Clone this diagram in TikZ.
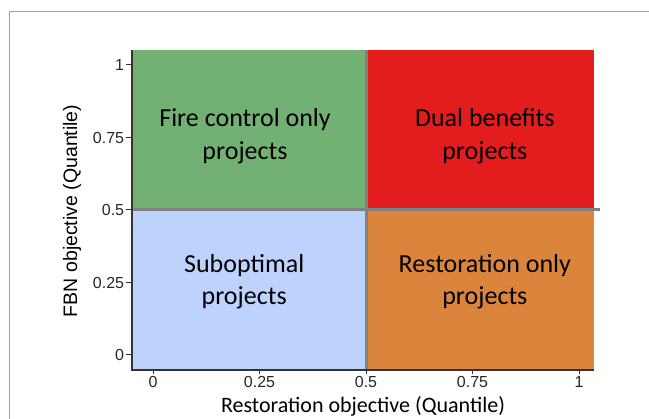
\documentclass[tikz,border=0pt]{standalone}
\usepackage{fontspec}
\setmainfont{Liberation Sans}
\newfontfamily\calib{Carlito}
\definecolor{firegreen}{RGB}{114,176,116}
\definecolor{dualred}{RGB}{227,28,30}
\definecolor{subblue}{RGB}{189,210,253}
\definecolor{restorange}{RGB}{219,132,60}
\definecolor{divgray}{RGB}{128,128,128}
\definecolor{framegray}{RGB}{160,160,160}
\definecolor{axisdark}{RGB}{51,51,51}
\tikzset{
  quad/.style={font=\calib\fontsize{26}{32.5}\selectfont, align=center, text=black},
  ticklab/.style={font=\fontsize{16}{19}\selectfont, text=black!85, inner sep=1.5pt},
  tickmark/.style={axisdark, line width=1pt},
  axline/.style={axisdark, line width=2pt},
  divline/.style={divgray, line width=3pt},
}
\begin{document}
\begin{tikzpicture}[x=1pt,y=-1pt]
\useasboundingbox (0,0) rectangle (649,419);
\draw[framegray, line width=1pt] (9,419) -- (9,11.5) -- (649,11.5);
\begin{scope}[shift={(153,355)}, x=426pt, y=290pt]
  \coordinate (ll) at (-0.049,-0.052);
  \coordinate (ur) at (1.035,1.052);
  \coordinate (mid) at (0.5,0.5);
  \coordinate (hend) at (1.049,0.5);
  \fill[subblue] (ll) rectangle (mid);
  \fill[firegreen] (ll |- mid) rectangle (mid |- ur);
  \fill[dualred] (mid) rectangle (ur);
  \fill[restorange] (mid |- ll) rectangle (ur |- mid);
  \draw[divline] (mid |- ll) -- (mid |- ur);
  \draw[divline] (ll |- mid) -- (hend);
  \draw[axline] (ll |- ur) -- (ll) -- (ur |- ll);
  \foreach \v [count=\k] in {0,0.25,0.5,0.75,1}{
    \draw[tickmark] (-0.049,\v) -- ++(-6pt,0) node[ticklab, anchor=east] (yl\k) {\v};
    \draw[tickmark] (\v,-0.052) -- ++(0,-4pt) node[ticklab, anchor=north] (xl\k) {\v};
  }
  \node[quad] (fire) at (0.216,0.755) {Fire control only\\projects};
  \node[quad] (dual) at (0.779,0.755) {Dual benefits\\projects};
  \node[quad] (subopt) at (0.214,0.252) {Suboptimal\\projects};
  \node[quad] (resto) at (0.779,0.252) {Restoration only\\projects};
  \node[font=\calib\fontsize{22}{26}\selectfont, anchor=base] (xtitle) at (0.493,-0.197) {Restoration objective (Quantile)};
  \node[font=\fontsize{19.5}{23}\selectfont, rotate=90] (ytitle) at (-0.190,0.497) {FBN objective (Quantile)};
\end{scope}
\end{tikzpicture}
\end{document}
